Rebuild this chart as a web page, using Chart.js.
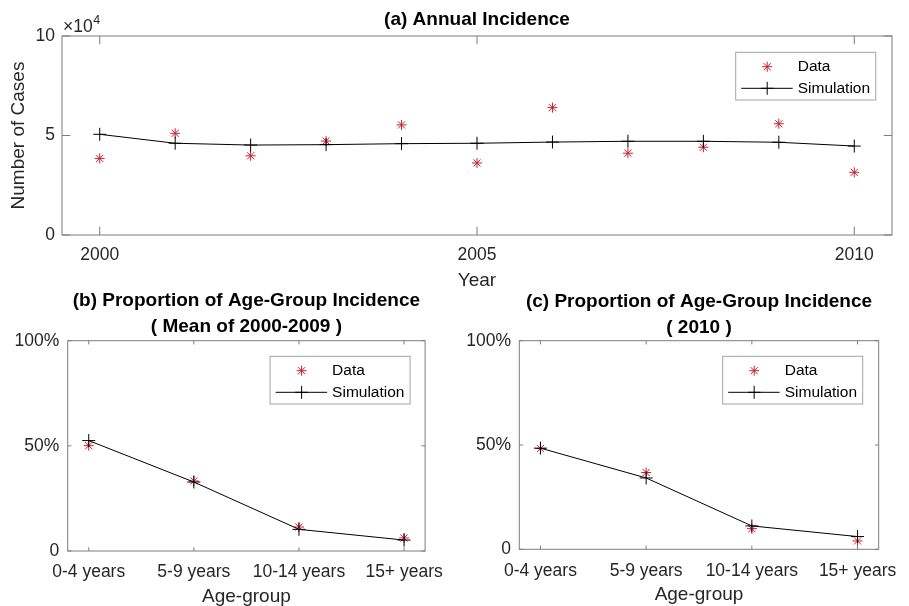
<!DOCTYPE html>
<html>
<head>
<meta charset="utf-8">
<title>Incidence: data vs simulation</title>
<script src="https://cdn.jsdelivr.net/npm/chart.js@4/dist/chart.umd.min.js"></script>
<style>
  html, body { margin: 0; padding: 0; background: #fff; width: 909px; height: 606px; overflow: hidden; }
  canvas { position: absolute; }
</style>
</head>
<body>
<canvas id="annual" width="909" height="292" style="left:0px;top:0px;width:909px;height:292px"></canvas>
<canvas id="ageMean" width="455" height="326" style="left:0px;top:284px;width:455px;height:326px"></canvas>
<canvas id="age2010" width="454" height="326" style="left:455px;top:284px;width:454px;height:326px"></canvas>
<script>
// ---- data ----
const years = [2000, 2001, 2002, 2003, 2004, 2005, 2006, 2007, 2008, 2009, 2010];
const annualData = [38500, 51100, 39800, 47200, 55300, 36200, 64000, 41100, 44100, 55900, 31500];
const annualSim  = [50600, 46100, 45200, 45400, 45900, 46100, 46700, 47100, 47100, 46600, 44700];
const yearTicks = [2000, 2005, 2010];
const caseTicks = [0, 50000, 100000];

const ageGroups = ['0-4 years', '5-9 years', '10-14 years', '15+ years'];
const meanData = [50.1, 33.3, 11.4, 6.2];
const meanSim  = [52.5, 32.8, 10.3, 5.2];
const y2010Data = [48.3, 36.8, 9.9, 4.0];
const y2010Sim  = [48.5, 34.2, 11.2, 6.1];
const pctTicks = [0, 50, 100];

// ---- styling ----
const RED = 'rgb(200, 30, 50)';
const TEXT = '#262626';
const FONT = '"Liberation Sans", Arial, Helvetica, sans-serif';
Chart.defaults.font.family = FONT;
Chart.defaults.color = TEXT;

function markerPath(ctx, style, r, x, y) {
  const d = r * Math.SQRT1_2;
  ctx.beginPath();
  ctx.moveTo(x - r, y); ctx.lineTo(x + r, y);
  ctx.moveTo(x, y - r); ctx.lineTo(x, y + r);
  if (style === 'star') {
    ctx.moveTo(x - d, y - d); ctx.lineTo(x + d, y + d);
    ctx.moveTo(x - d, y + d); ctx.lineTo(x + d, y - d);
  }
  ctx.stroke();
}

function drawMarker(ctx, style, r, x, y) {
  const h = Chart.helpers;
  if (h && typeof h.drawPoint === 'function') {
    ctx.beginPath();
    h.drawPoint(ctx, { pointStyle: style, radius: r, borderWidth: 1, rotation: 0 }, x, y);
  } else {
    markerPath(ctx, style, r, x, y);
  }
}

// Box around the axes with inward tick marks on all four sides
const axesBox = {
  id: 'axesBox',
  afterDatasetsDraw(chart, args, opts) {
    const { ctx, chartArea: a, scales } = chart;
    const L = opts.tickLen || 4;
    ctx.save();
    ctx.strokeStyle = '#7d7d7d';
    ctx.lineWidth = 1;
    ctx.strokeRect(a.left, a.top, a.right - a.left, a.bottom - a.top);
    ctx.beginPath();
    scales.x.ticks.forEach(t => {
      const px = scales.x.getPixelForValue(t.value);
      ctx.moveTo(px, a.bottom); ctx.lineTo(px, a.bottom - L);
      ctx.moveTo(px, a.top); ctx.lineTo(px, a.top + L);
    });
    scales.y.ticks.forEach(t => {
      const py = scales.y.getPixelForValue(t.value);
      ctx.moveTo(a.left, py); ctx.lineTo(a.left + L, py);
      ctx.moveTo(a.right, py); ctx.lineTo(a.right - L, py);
    });
    ctx.stroke();
    ctx.restore();
  }
};

// Boxed legend in the upper-right corner of the plot area
const boxLegend = {
  id: 'boxLegend',
  afterDraw(chart, args, o) {
    const { ctx, chartArea: a } = chart;
    const w = 140, h = 47.7;
    const x0 = a.right - o.insetX - w;
    const y0 = a.top + o.insetY;
    ctx.save();
    ctx.fillStyle = '#fff';
    ctx.fillRect(x0, y0, w, h);
    ctx.strokeStyle = '#a3a3a3';
    ctx.lineWidth = 1;
    ctx.strokeRect(x0, y0, w, h);
    const rows = [14.4, 36];
    chart.data.datasets.forEach((ds, i) => {
      const cy = y0 + rows[i];
      ctx.strokeStyle = ds.borderColor;
      ctx.fillStyle = ds.borderColor;
      ctx.lineWidth = 1;
      if (ds.showLine !== false) {
        ctx.beginPath();
        ctx.moveTo(x0 + 5.5, cy);
        ctx.lineTo(x0 + 57, cy);
        ctx.stroke();
      }
      drawMarker(ctx, ds.pointStyle, ds.pointRadius, x0 + 31.5, cy);
      ctx.fillStyle = '#000';
      ctx.font = '15.5px ' + FONT;
      ctx.textAlign = 'left';
      ctx.textBaseline = 'middle';
      ctx.fillText(ds.label, x0 + 62, cy + 0.5);
    });
    ctx.restore();
  }
};

// Axis multiplier shown above the top-left corner of the axes
const exponentLabel = {
  id: 'exponentLabel',
  afterDraw(chart, args, o) {
    const { ctx, chartArea: a } = chart;
    ctx.save();
    ctx.fillStyle = TEXT;
    ctx.textBaseline = 'middle';
    ctx.textAlign = 'left';
    ctx.font = '17.5px ' + FONT;
    const base = '\u00D710';
    const x = a.left + 1;
    ctx.fillText(base, x, a.top - 9);
    const bw = ctx.measureText(base).width;
    ctx.font = '12.5px ' + FONT;
    ctx.fillText(o.power, x + bw + 0.5, a.top - 15.5);
    ctx.restore();
  }
};

function seriesSets(xs, dataVals, simVals) {
  return [
    {
      label: 'Data',
      data: xs.map((x, i) => ({ x: x, y: dataVals[i] })),
      showLine: false,
      pointStyle: 'star',
      pointRadius: 5,
      pointHoverRadius: 5,
      pointBorderWidth: 1,
      borderColor: RED,
      backgroundColor: RED,
      order: 2
    },
    {
      label: 'Simulation',
      data: xs.map((x, i) => ({ x: x, y: simVals[i] })),
      borderColor: '#000',
      backgroundColor: '#000',
      borderWidth: 1,
      pointStyle: 'cross',
      pointRadius: 6.5,
      pointHoverRadius: 6.5,
      pointBorderWidth: 1,
      tension: 0,
      order: 1
    }
  ];
}

const noGrid = { display: false, drawTicks: false };

// (a) annual incidence
new Chart(document.getElementById('annual'), {
  type: 'line',
  data: { datasets: seriesSets(years, annualData, annualSim) },
  options: {
    responsive: false,
    animation: false,
    events: [],
    layout: { padding: { left: 0, right: 17, top: 0, bottom: 0 } },
    plugins: {
      legend: { display: false },
      tooltip: { enabled: false },
      title: {
        display: true, text: '(a) Annual Incidence', fullSize: false, color: '#000',
        font: { size: 19, weight: 'bold', lineHeight: 1.2 },
        padding: { top: 8.6, bottom: 4.6 }
      },
      axesBox: { tickLen: 8.3 },
      boxLegend: { insetX: 16.3, insetY: 16.3 },
      exponentLabel: { power: '4' }
    },
    scales: {
      x: {
        type: 'linear', min: 1999.5, max: 2010.5,
        grid: noGrid, border: { display: false },
        afterBuildTicks: s => { s.ticks = yearTicks.map(v => ({ value: v })); },
        afterFit: s => { s.height = 57; },
        ticks: { padding: 10, font: { size: 17.5 }, color: TEXT, maxRotation: 0, autoSkip: false,
                 callback: v => String(v) },
        title: { display: true, text: 'Year', color: TEXT, font: { size: 19, lineHeight: 1.2 },
                 padding: { top: 0, bottom: 0 } }
      },
      y: {
        min: 0, max: 100000,
        grid: noGrid, border: { display: false },
        afterBuildTicks: s => { s.ticks = caseTicks.map(v => ({ value: v })); },
        afterFit: s => { s.width = 62; },
        ticks: { padding: 7, font: { size: 17.5 }, color: TEXT, callback: v => String(v / 1e4) },
        title: { display: true, text: 'Number of Cases', color: TEXT, font: { size: 19, lineHeight: 1.2 },
                 padding: { top: 7.8, bottom: 0 } }
      }
    }
  },
  plugins: [axesBox, boxLegend, exponentLabel]
});

// (b), (c) age-group proportions
function ageChart(id, titleLines, dataVals, simVals, g) {
  const idx = ageGroups.map((_, i) => i);
  return new Chart(document.getElementById(id), {
    type: 'line',
    data: { datasets: seriesSets(idx, dataVals, simVals) },
    options: {
      responsive: false,
      animation: false,
      events: [],
      layout: { padding: { left: 0, right: g.padRight, top: 0, bottom: 0 } },
      plugins: {
        legend: { display: false },
        tooltip: { enabled: false },
        title: {
          display: true, text: titleLines, fullSize: false, color: '#000',
          font: { size: 19, weight: 'bold', lineHeight: 26.4 / 19 },
          padding: { top: g.titleTop, bottom: g.titleBottom }
        },
        axesBox: { tickLen: 3.7 },
        boxLegend: { insetX: g.legX, insetY: 15.6 }
      },
      scales: {
        x: {
          type: 'linear', min: -0.2, max: 3.2,
          grid: noGrid, border: { display: false },
          afterBuildTicks: s => { s.ticks = idx.map(v => ({ value: v })); },
          afterFit: s => { s.height = g.xHeight; },
          ticks: { padding: g.xPad, font: { size: 17.5 }, color: TEXT, maxRotation: 0, autoSkip: false,
                   callback: v => ageGroups[v] },
          title: { display: true, text: 'Age-group', color: TEXT, font: { size: 19, lineHeight: 1.2 },
                   padding: { top: 0, bottom: g.xTitleBottom } }
        },
        y: {
          min: 0, max: 100,
          grid: noGrid, border: { display: false },
          afterBuildTicks: s => { s.ticks = pctTicks.map(v => ({ value: v })); },
          afterFit: s => { s.width = g.yWidth; },
          ticks: { padding: g.yPad, font: { size: 17.5 }, color: TEXT,
                   callback: v => (v === 0 ? '0' : v + '%') }
        }
      }
    },
    plugins: [axesBox, boxLegend]
  });
}

ageChart('ageMean', ['(b) Proportion of Age-Group Incidence', '( Mean of 2000-2009 )'],
  meanData, meanSim,
  { padRight: 19.7, titleTop: 3.5, titleBottom: 0.4, yWidth: 67.7, xHeight: 59, xPad: 10.5,
    xTitleBottom: 1.6, yPad: 8.5, legX: 15 });

ageChart('age2010', ['(c) Proportion of Age-Group Incidence', '( 2010 )'],
  y2010Data, y2010Sim,
  { padRight: 17.3, titleTop: 4.6, titleBottom: -0.7, yWidth: 64.3, xHeight: 60.7, xPad: 11,
    xTitleBottom: 3.6, yPad: 8.3, legX: 16 });
</script>
</body>
</html>
